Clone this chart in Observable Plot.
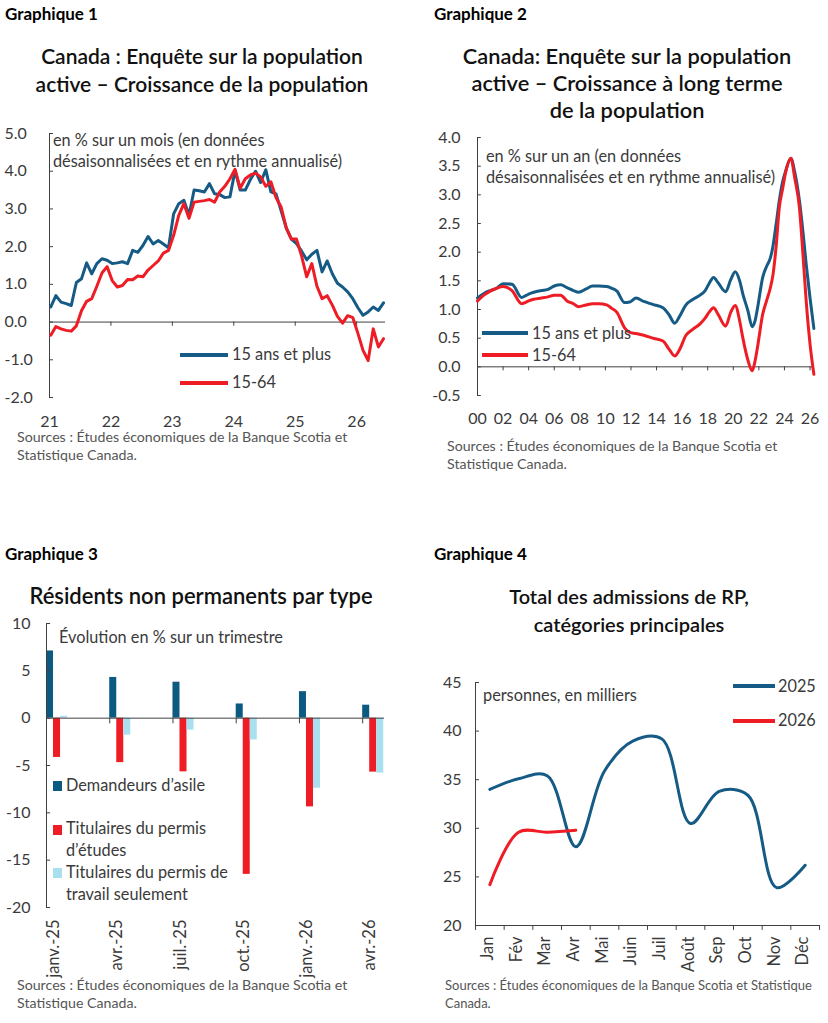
<!DOCTYPE html>
<html><head><meta charset="utf-8">
<script src="https://cdn.jsdelivr.net/npm/d3@7"></script>
<script src="https://cdn.jsdelivr.net/npm/@observablehq/plot@0.6"></script>
<style>
body{margin:0;background:#fff;}
#root{position:relative;width:828px;height:1023px;overflow:hidden;background:#fff;}
#root svg{position:absolute;}
</style></head><body><div id="root"></div>
<script>
// ---------- DATA ----------
// Graphique 1 : monthly, from Jan 2021
const g1Blue = [0.4,0.7,0.53,0.49,0.44,1.05,1.15,1.57,1.28,1.55,1.68,1.64,1.55,1.57,1.6,1.55,1.9,1.85,2.03,2.27,2.07,2.16,2.07,1.97,2.87,3.14,3.23,2.83,3.5,3.48,3.45,3.67,3.4,3.38,3.3,3.32,4.02,3.5,3.5,3.78,4.0,3.7,4.04,3.45,3.4,2.95,2.5,2.2,2.08,1.88,1.65,1.8,1.9,1.33,1.62,1.28,1.03,0.93,0.8,0.62,0.38,0.18,0.27,0.4,0.31,0.51];
const g1Red = [-0.35,-0.12,-0.18,-0.22,-0.24,-0.1,0.3,0.55,0.62,0.95,1.3,1.47,1.1,0.93,0.97,1.13,1.12,1.22,1.2,1.38,1.5,1.62,1.83,1.9,2.3,2.83,3.14,2.75,3.18,3.2,3.22,3.25,3.18,3.45,3.6,3.8,4.05,3.55,3.8,3.9,3.95,3.85,3.6,3.72,3.3,3.05,2.5,2.2,2.2,1.75,1.2,1.55,0.95,0.62,0.7,0.45,0.15,-0.03,0.17,0.12,-0.3,-0.75,-1.02,-0.18,-0.66,-0.44];
const g1YTicks = [-2,-1,0,1,2,3,4,5];
const g1XTicks = [2021,2022,2023,2024,2025,2026];
const g1Series = ["15 ans et plus","15-64"];

// Graphique 2 : long-term growth
const g2Years = [2000.0,2000.5,2001.0,2001.5,2002.0,2002.7,2003.45,2004.0,2004.4,2005.0,2005.5,2006.0,2006.5,2007.0,2007.5,2007.9,2008.5,2009.0,2009.5,2010.1,2010.5,2010.9,2011.5,2011.9,2012.4,2013.0,2013.7,2014.5,2015.0,2015.42,2015.8,2016.3,2016.8,2017.4,2017.8,2018.1,2018.46,2018.8,2019.4,2019.8,2020.15,2020.5,2020.75,2021.14,2021.48,2021.7,2021.9,2022.3,2022.6,2022.9,2023.1,2023.35,2023.6,2023.87,2024.1,2024.5,2024.8,2025.17,2025.45,2025.7,2026.0,2026.3];
const g2Blue = [1.2,1.28,1.33,1.37,1.45,1.44,1.21,1.27,1.3,1.33,1.35,1.41,1.43,1.38,1.33,1.3,1.36,1.41,1.41,1.4,1.37,1.32,1.12,1.13,1.2,1.14,1.09,1.03,0.9,0.76,0.88,1.08,1.17,1.25,1.33,1.45,1.56,1.47,1.31,1.52,1.66,1.5,1.27,0.98,0.70,0.8,1.03,1.56,1.75,1.9,2.1,2.49,2.9,3.24,3.42,3.64,3.4,2.9,2.35,1.79,1.2,0.67];
const g2Red = [1.15,1.25,1.32,1.37,1.4,1.33,1.1,1.15,1.18,1.2,1.22,1.25,1.25,1.15,1.1,1.05,1.08,1.1,1.1,1.08,1.02,0.95,0.68,0.6,0.58,0.55,0.5,0.45,0.3,0.19,0.3,0.55,0.65,0.75,0.85,0.95,1.03,0.92,0.71,0.95,1.07,0.8,0.5,0.12,-0.07,0.1,0.35,0.92,1.15,1.38,1.6,2.1,2.78,3.12,3.4,3.64,3.3,2.78,1.95,1.15,0.4,-0.13];
const g2YTicks = [-0.5,0,0.5,1,1.5,2,2.5,3,3.5,4];
const g2XTicks = [2000,2002,2004,2006,2008,2010,2012,2014,2016,2018,2020,2022,2024,2026];

// Graphique 3 : non-permanent residents, % change over a quarter
const g3Quarters = ["janv.-25","avr.-25","juil.-25","oct.-25","janv.-26","avr.-26"];
const g3Asile = [7.1,4.3,3.8,1.5,2.8,1.37];
const g3Etudes = [-4.15,-4.7,-5.67,-16.5,-9.37,-5.7];
const g3Travail = [0.2,-1.8,-1.27,-2.3,-7.4,-5.8];
const g3YTicks = [-20,-15,-10,-5,0,5,10];

// Graphique 4 : PR admissions, thousands
const g4Months = ["Jan","Fév","Mar","Avr","Mai","Juin","Juil","Août","Sep","Oct","Nov","Déc"];
const g4Y2025 = [34.0,35.1,35.4,28.1,35.9,39.0,39.2,30.5,33.8,33.4,23.9,26.2];
const g4Y2026 = [24.2,29.6,29.6,29.8];
const g4YTicks = [20,25,30,35,40,45];

// ---------- STYLE ----------
const FONT = "Lato, 'Open Sans', sans-serif";
const BLUE = "#155b85", RED = "#ee1c25", BAR_BLUE = "#0c5a82", LIGHT = "#aadff0";
const AXIS = "#404040", TXT = "#3a3a3a", SRC = "#555";
const TICK = 16, ROT = 16.5, NOTE = 16.3;
const root = document.getElementById("root");
function put(node, left, top){ node.style.left = left+"px"; node.style.top = top+"px"; root.appendChild(node); }
const baseStyle = {fontFamily: FONT, fontSize: "16px", color: TXT, background: "transparent", overflow: "visible"};

// ---------- GRAPHIQUE 1 ----------
const g1X = g1Blue.map((_, i) => 2021 + (i + 0.25) / 12);
const p1 = Plot.plot({
  width: 400, height: 320, marginLeft: 49, marginRight: 15, marginTop: 13, marginBottom: 43,
  style: baseStyle,
  x: {domain: [2021, 2026.47], axis: null},
  y: {domain: [-2, 5], axis: null},
  marks: [
    Plot.axisY({ticks: g1YTicks, tickSize: 0, tickPadding: 0, textAnchor: "start", dx: -45, tickFormat: d => d.toFixed(1), fontSize: TICK}),
    Plot.axisX({ticks: g1XTicks, tickSize: 0, tickPadding: 18, tickFormat: d => String(d % 100), fontSize: TICK}),
    Plot.ruleX([2021], {stroke: AXIS}),
    Plot.ruleY(g1YTicks, {y: d => d, x1: 2021, x2: 2021.065, stroke: AXIS}),
    Plot.ruleY([0], {stroke: AXIS}),
    Plot.ruleX(g1XTicks, {x: d => d, y1: 0, y2: -0.11, stroke: AXIS}),
    Plot.line(g1Blue, {x: (d, i) => g1X[i], y: d => d, stroke: BLUE, strokeWidth: 3}),
    Plot.line(g1Red, {x: (d, i) => g1X[i], y: d => d, stroke: RED, strokeWidth: 3})
  ]
});
put(p1, 0, 120);

// ---------- GRAPHIQUE 2 ----------
const p2 = Plot.plot({
  width: 408, height: 320, marginLeft: 57, marginRight: 14, marginTop: 17, marginBottom: 45,
  style: baseStyle,
  x: {domain: [2000, 2026.35], axis: null},
  y: {domain: [-0.5, 4], axis: null},
  marks: [
    Plot.axisY({ticks: g2YTicks, tickSize: 0, tickPadding: 17, tickFormat: d => d.toFixed(1), fontSize: TICK}),
    Plot.axisX({ticks: g2XTicks, tickSize: 0, tickPadding: 17, tickFormat: d => String(d % 100).padStart(2, "0"), fontSize: TICK}),
    Plot.ruleX([2000], {stroke: AXIS}),
    Plot.ruleY(g2YTicks, {y: d => d, x1: 2000, x2: 2000.3, stroke: AXIS}),
    Plot.ruleY([0], {stroke: AXIS}),
    Plot.ruleX(g2XTicks, {x: d => d, y1: 0, y2: -0.07, stroke: AXIS}),
    Plot.line(g2Blue, {x: (d, i) => g2Years[i], y: d => d, stroke: BLUE, strokeWidth: 3, curve: "monotone-x"}),
    Plot.line(g2Red, {x: (d, i) => g2Years[i], y: d => d, stroke: RED, strokeWidth: 3, curve: "monotone-x"})
  ]
});
put(p2, 420, 120);

// ---------- GRAPHIQUE 3 ----------
const BW = 0.111; // bar width in category units
const p3 = Plot.plot({
  width: 414, height: 380, marginLeft: 46, marginRight: 30, marginTop: 13, marginBottom: 83,
  style: baseStyle,
  x: {domain: [0, 5.345], axis: null},
  y: {domain: [-20, 10], axis: null},
  marks: [
    Plot.axisY({ticks: g3YTicks, tickSize: 0, tickPadding: 16, fontSize: TICK, tickFormat: d => String(d)}),
    Plot.rect(g3Asile, {x1: (d, i) => i, x2: (d, i) => i + BW, y1: 0, y2: d => d, fill: BAR_BLUE}),
    Plot.rect(g3Etudes, {x1: (d, i) => i + BW, x2: (d, i) => i + 2 * BW, y1: 0, y2: d => d, fill: RED}),
    Plot.rect(g3Travail, {x1: (d, i) => i + 2 * BW, x2: (d, i) => i + 3 * BW, y1: 0, y2: d => d, fill: LIGHT}),
    Plot.ruleX([0], {stroke: AXIS}),
    Plot.ruleY(g3YTicks, {y: d => d, x1: 0, x2: 0.065, stroke: AXIS}),
    Plot.ruleY([0], {stroke: AXIS}),
    Plot.ruleX(g3Quarters, {x: (d, i) => i, y1: 0, y2: -0.6, stroke: AXIS}),
    Plot.text(g3Quarters, {x: (d, i) => i + 1.5 * BW, text: d => d, frameAnchor: "bottom", rotate: -90, textAnchor: "end", dx: 2, dy: 12, fontSize: ROT, fill: TXT})
  ]
});
put(p3, 0, 610);

// ---------- GRAPHIQUE 4 ----------
const p4 = Plot.plot({
  width: 408, height: 330, marginLeft: 55, marginRight: 9, marginTop: 22, marginBottom: 65,
  style: baseStyle,
  x: {domain: [0, 12], axis: null},
  y: {domain: [20, 45], axis: null},
  marks: [
    Plot.axisY({ticks: g4YTicks, tickSize: 0, tickPadding: 14, fontSize: TICK}),
    Plot.ruleX([0], {stroke: AXIS}),
    Plot.ruleY(g4YTicks, {y: d => d, x1: 0, x2: 0.14, stroke: AXIS}),
    Plot.ruleY([20], {stroke: AXIS}),
    Plot.ruleX(d3.range(g4Months.length + 1), {x: d => d, y1: 20, y2: 19.5, stroke: AXIS}),
    Plot.text(g4Months, {x: (d, i) => i + 0.5, text: d => d, frameAnchor: "bottom", rotate: -90, textAnchor: "end", dx: 3, dy: 11, fontSize: ROT, fill: TXT}),
    Plot.line(g4Y2025, {x: (d, i) => i + 0.5, y: d => d, stroke: BLUE, strokeWidth: 3, curve: "catmull-rom"}),
    Plot.line(g4Y2026, {x: (d, i) => i + 0.5, y: d => d, stroke: RED, strokeWidth: 3, curve: "catmull-rom"})
  ]
});
put(p4, 420, 660);

// ---------- TEXT OVERLAY (titles, notes, legends, sources) ----------
const ov = d3.create("svg").attr("width", 828).attr("height", 1023).style("left", "0px").style("top", "0px")
  .style("pointer-events", "none").attr("font-family", FONT);
function txt(str, x, y, o = {}) {
  ov.append("text").attr("x", x).attr("y", y).attr("font-size", o.size || NOTE)
    .attr("font-weight", o.weight || 400).attr("fill", o.fill || TXT)
    .attr("text-anchor", o.anchor || "start").text(str);
}
function lgLine(x1, x2, y, color) {
  ov.append("line").attr("x1", x1).attr("x2", x2).attr("y1", y).attr("y2", y)
    .attr("stroke", color).attr("stroke-width", 4);
}
function lgSquare(x, y, color) {
  ov.append("rect").attr("x", x).attr("y", y).attr("width", 9).attr("height", 10).attr("fill", color);
}
const H = {size: 17, weight: 700, fill: "#000"};
const T = (s) => ({size: s, weight: 600, fill: "#111", anchor: "middle"});
const S = {size: 14.2, fill: SRC};

// Graphique 1
txt("Graphique 1", 5, 20, H);
txt("Canada : Enquête sur la population", 202, 64, T(21));
txt("active – Croissance de la population", 202, 92, T(21));
txt("en % sur un mois (en données", 53, 146);
txt("désaisonnalisées et en rythme annualisé)", 53, 167);
lgLine(180, 228, 355, BLUE); txt(g1Series[0], 232, 360);
lgLine(180, 228, 383, RED); txt(g1Series[1], 232, 388);
txt("Sources : Études économiques de la Banque Scotia et", 17, 442, S);
txt("Statistique Canada.", 17, 460, S);

// Graphique 2
txt("Graphique 2", 434, 20, H);
txt("Canada: Enquête sur la population", 627, 64, T(21.8));
txt("active –  Croissance à long terme", 627, 91, T(21.8));
txt("de la population", 627, 118, T(21.8));
txt("en % sur un an (en données", 486, 162);
txt("désaisonnalisées et en rythme annualisé)", 486, 183);
lgLine(482, 528, 333, BLUE); txt(g1Series[0], 532, 339);
lgLine(482, 528, 355, RED); txt(g1Series[1], 532, 361);
txt("Sources : Études économiques de la Banque Scotia et", 447, 451, S);
txt("Statistique Canada.", 447, 469, S);

// Graphique 3
txt("Graphique 3", 5, 560, H);
txt("Résidents non permanents par type", 201, 604, T(22));
txt("Évolution en % sur un trimestre", 59, 643);
lgSquare(53, 781, BAR_BLUE); txt("Demandeurs d’asile", 66, 791);
lgSquare(53, 825, RED); txt("Titulaires du permis", 66, 834); txt("d’études", 66, 856);
lgSquare(53, 868, LIGHT); txt("Titulaires du permis de", 66, 878); txt("travail seulement", 66, 900);
txt("Sources : Études économiques de la Banque Scotia et", 17, 990, S);
txt("Statistique Canada.", 17, 1008, S);

// Graphique 4
txt("Graphique 4", 434, 560, H);
txt("Total des admissions de RP,", 629, 604, T(20));
txt("catégories principales", 629, 632, T(20));
txt("personnes, en milliers", 483, 701);
lgLine(733, 775, 686, BLUE); txt("2025", 778, 692);
lgLine(733, 775, 721, RED); txt("2026", 778, 726);
txt("Sources : Études économiques de la Banque Scotia et Statistique", 445, 990, {size: 13, fill: SRC});
txt("Canada.", 445, 1008, {size: 13, fill: SRC});

root.appendChild(ov.node());
</script>
</body></html>
